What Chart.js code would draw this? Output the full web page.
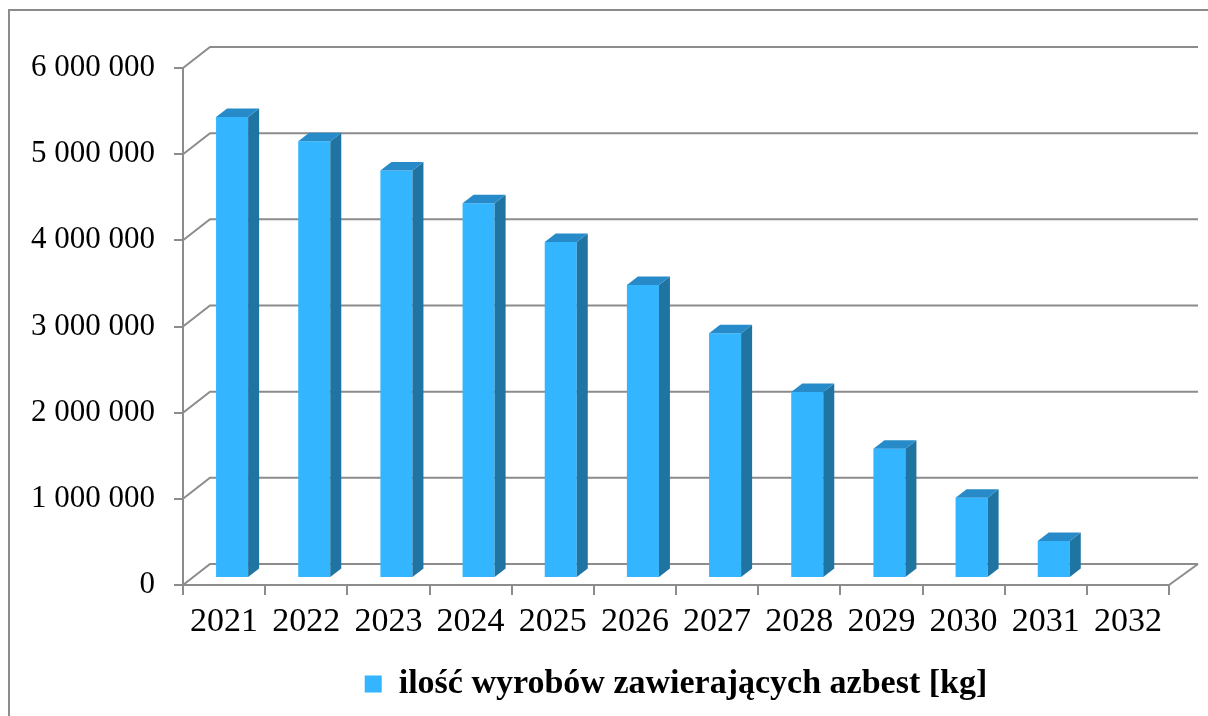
<!DOCTYPE html>
<html>
<head>
<meta charset="utf-8">
<script src="https://cdn.jsdelivr.net/npm/chart.js@4"></script>
<style>
  html, body { margin: 0; padding: 0; background: #fff; }
  #wrap { width: 1208px; height: 716px; }
</style>
</head>
<body>
<div id="wrap"><canvas id="chartAzbest" width="1208" height="716"></canvas></div>
<script>
// dane z wykresu
const lata = ['2021', '2022', '2023', '2024', '2025', '2026', '2027', '2028', '2029', '2030', '2031', '2032'];
const ilosc = [5350000, 5070000, 4730000, 4350000, 3900000, 3400000, 2840000, 2160000, 1500000, 930000, 430000, 0];
const yTickLabels = ['0', '1 000 000', '2 000 000', '3 000 000', '4 000 000', '5 000 000', '6 000 000'];
const nazwaSerii = 'ilość wyrobów zawierających azbest [kg]';

const GRID = '#8c8c8c';
const FONT = '"Liberation Serif", "DejaVu Serif", serif';

// przesuniecia "glebi" 3D
const GLEB = { dx: 27, dy: -21 };       // tylna sciana
const FRONT = { dx: 8, dy: -7 };        // przod slupka
const BOK = { dx: 11, dy: -8.5 };       // bok / wierzch slupka

const efekt3D = {
    id: 'efekt3D',
    beforeDraw(chart) {
        const ctx = chart.ctx;
        ctx.save();
        ctx.strokeStyle = GRID;
        ctx.lineWidth = 2;
        ctx.strokeRect(9, 10, 1400, 900); // ramka wykresu
        ctx.restore();
    },
    beforeDatasetsDraw(chart) {
        const ctx = chart.ctx;
        const y = chart.scales.y;
        const L = chart.chartArea.left, R = chart.chartArea.right;
        ctx.save();
        ctx.strokeStyle = GRID;
        ctx.lineWidth = 2;
        // siatka: skos na lewej scianie + linia na tylnej scianie
        y.ticks.forEach(t => {
            const py = y.getPixelForValue(t.value);
            ctx.beginPath();
            ctx.moveTo(L, py);
            ctx.lineTo(L + GLEB.dx, py + GLEB.dy);
            ctx.lineTo(R + GLEB.dx + 2, py + GLEB.dy);
            ctx.stroke();
        });
        // prawa krawedz podlogi
        const y0 = y.getPixelForValue(0);
        ctx.beginPath();
        ctx.moveTo(R, y0);
        ctx.lineTo(R + GLEB.dx + 2, y0 + GLEB.dy);
        ctx.stroke();
        ctx.restore();

        ctx.save();
        ctx.translate(FRONT.dx, FRONT.dy);
    },
    afterDatasetsDraw(chart) {
        const ctx = chart.ctx;
        ctx.restore();
        const meta = chart.getDatasetMeta(0);
        ctx.save();
        meta.data.forEach((bar, i) => {
            if (!ilosc[i]) return;
            const p = bar.getProps(['x', 'y', 'base', 'width'], true);
            const l = p.x - p.width / 2 + FRONT.dx;
            const r = p.x + p.width / 2 + FRONT.dx;
            const t = p.y + FRONT.dy;
            const b = p.base + FRONT.dy;
            // bok
            ctx.fillStyle = '#1f74a1';
            ctx.beginPath();
            ctx.moveTo(r, t);
            ctx.lineTo(r + BOK.dx, t + BOK.dy);
            ctx.lineTo(r + BOK.dx, b + BOK.dy);
            ctx.lineTo(r, b);
            ctx.closePath();
            ctx.fill();
            // wierzch
            ctx.fillStyle = '#268bc8';
            ctx.beginPath();
            ctx.moveTo(l, t);
            ctx.lineTo(l + BOK.dx, t + BOK.dy);
            ctx.lineTo(r + BOK.dx, t + BOK.dy);
            ctx.lineTo(r, t);
            ctx.closePath();
            ctx.fill();
        });
        ctx.restore();
    }
};

new Chart(document.getElementById('chartAzbest'), {
    type: 'bar',
    data: {
        labels: lata,
        datasets: [{
            label: nazwaSerii,
            data: ilosc,
            backgroundColor: '#33b6ff',
            borderWidth: 0,
            categoryPercentage: 1,
            barPercentage: 0.39,
            clip: false
        }]
    },
    options: {
        responsive: false,
        animation: false,
        devicePixelRatio: 1,
        layout: { padding: { left: 0, right: 39, top: 68, bottom: 5 } },
        plugins: {
            tooltip: { enabled: false },
            legend: {
                position: 'bottom',
                fullSize: false,
                labels: {
                    color: '#000',
                    font: { family: FONT, size: 34, weight: 'bold' },
                    boxWidth: 17,
                    boxHeight: 17,
                    padding: 10
                }
            }
        },
        scales: {
            x: {
                offset: true,
                grid: { offset: true, drawOnChartArea: false, drawTicks: true, tickLength: 10, color: GRID, lineWidth: 2 },
                border: { display: true, color: GRID, width: 2 },
                ticks: { color: '#000', font: { family: FONT, size: 34 }, padding: 7, maxRotation: 0 },
                afterFit(s) { s.height = 72; }
            },
            y: {
                min: 0,
                max: 6000000,
                grid: { drawOnChartArea: false, drawTicks: true, tickLength: 9, color: GRID, lineWidth: 2 },
                border: { display: true, color: GRID, width: 2 },
                ticks: {
                    stepSize: 1000000,
                    color: '#000',
                    font: { family: FONT, size: 31 },
                    padding: 19,
                    callback: (v, i) => yTickLabels[i]
                },
                afterFit(s) { s.width = 183; }
            }
        }
    },
    plugins: [efekt3D]
});
</script>
</body>
</html>
